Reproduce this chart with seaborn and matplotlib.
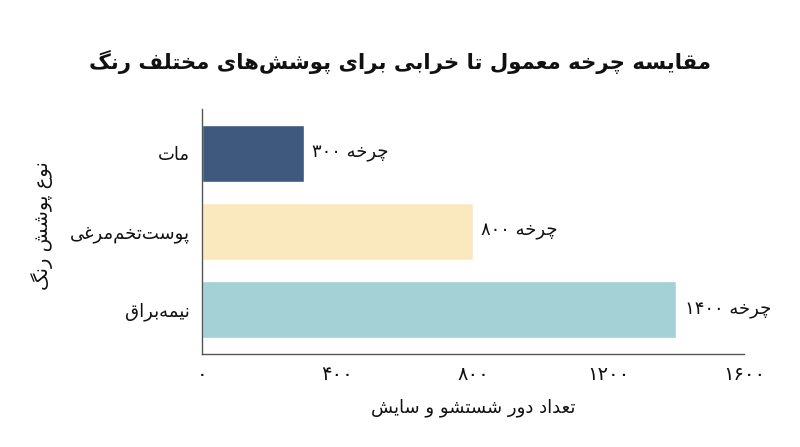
import matplotlib
matplotlib.use("Agg")
import matplotlib.pyplot as plt
import seaborn as sns
import pandas as pd

# chart data
categories = ["مات", "پوست\u200cتخم\u200cمرغی", "نیمه\u200cبراق"]
cycles = [300, 800, 1400]
bar_colors = ["#3e587e", "#fae9bf", "#a3d1d5"]
x_ticks = [0, 400, 800, 1200, 1600]
title = "مقایسه چرخه معمول تا خرابی برای پوشش\u200cهای مختلف رنگ"
x_label = "تعداد دور شستشو و سایش"
y_label = "نوع پوشش رنگ"
unit = "چرخه"

# matplotlib has no arabic shaping, so do it by hand with presentation forms
# (isolated, final, initial, medial)
FORMS = {
    "ا": ("\uFE8D", "\uFE8E", None, None),
    "ب": ("\uFE8F", "\uFE90", "\uFE91", "\uFE92"),
    "پ": ("\uFB56", "\uFB57", "\uFB58", "\uFB59"),
    "ت": ("\uFE95", "\uFE96", "\uFE97", "\uFE98"),
    "چ": ("\uFB7A", "\uFB7B", "\uFB7C", "\uFB7D"),
    "خ": ("\uFEA5", "\uFEA6", "\uFEA7", "\uFEA8"),
    "د": ("\uFEA9", "\uFEAA", None, None),
    "ر": ("\uFEAD", "\uFEAE", None, None),
    "س": ("\uFEB1", "\uFEB2", "\uFEB3", "\uFEB4"),
    "ش": ("\uFEB5", "\uFEB6", "\uFEB7", "\uFEB8"),
    "ع": ("\uFEC9", "\uFECA", "\uFECB", "\uFECC"),
    "غ": ("\uFECD", "\uFECE", "\uFECF", "\uFED0"),
    "ف": ("\uFED1", "\uFED2", "\uFED3", "\uFED4"),
    "ق": ("\uFED5", "\uFED6", "\uFED7", "\uFED8"),
    "ل": ("\uFEDD", "\uFEDE", "\uFEDF", "\uFEE0"),
    "م": ("\uFEE1", "\uFEE2", "\uFEE3", "\uFEE4"),
    "ن": ("\uFEE5", "\uFEE6", "\uFEE7", "\uFEE8"),
    "و": ("\uFEED", "\uFEEE", None, None),
    "ه": ("\uFEE9", "\uFEEA", "\uFEEB", "\uFEEC"),
    "ی": ("\uFBFC", "\uFBFD", "\uFBFE", "\uFBFF"),
    "گ": ("\uFB92", "\uFB93", "\uFB94", "\uFB95"),
}


def fa(text):
    out = []
    for i, ch in enumerate(text):
        if ch not in FORMS:
            if ch != "\u200c":
                out.append(ch)
            continue
        prev = text[i - 1] if i > 0 else None
        nxt = text[i + 1] if i < len(text) - 1 else None
        join_prev = prev in FORMS and FORMS[prev][2] is not None
        join_next = FORMS[ch][2] is not None and nxt in FORMS
        iso, fin, ini, med = FORMS[ch]
        if join_prev and join_next:
            out.append(med)
        elif join_prev:
            out.append(fin)
        elif join_next:
            out.append(ini)
        else:
            out.append(iso)
    return "".join(out)[::-1]


def fa_num(n):
    return str(n).translate(str.maketrans("0123456789", "۰۱۲۳۴۵۶۷۸۹"))


df = pd.DataFrame({"cat": [fa(c) for c in categories], "cycles": cycles})

sns.set_style("white")
plt.rcParams["font.family"] = ["DejaVu Sans"]
plt.rcParams["text.color"] = "#111111"
plt.rcParams["xtick.color"] = "#111111"
plt.rcParams["ytick.color"] = "#111111"

fig = plt.figure(figsize=(8, 4.47), dpi=100)
ax = fig.add_axes([202 / 800, 1 - 354 / 447, 542 / 800, 245 / 447])

sns.barplot(data=df, x="cycles", y="cat", hue="cat", palette=bar_colors,
            orient="h", width=0.73, legend=False, ax=ax, saturation=1)

ax.set_xlim(0, 1600)
ax.set_ylim(2.57, -0.57)
ax.set_xticks(x_ticks)
ax.set_xticklabels([fa_num(t) for t in x_ticks], fontsize=14)
ax.tick_params(axis="x", length=0, pad=8)
ax.tick_params(axis="y", length=0, pad=9, labelsize=13)
ax.set_xlabel("")
ax.set_ylabel("")

for side in ["top", "right"]:
    ax.spines[side].set_visible(False)
for side in ["left", "bottom"]:
    ax.spines[side].set_color("#555555")
    ax.spines[side].set_linewidth(1)

for i, v in enumerate(cycles):
    ax.text(v + 25, i, fa_num(v) + " " + fa(unit), va="center", ha="left",
            fontsize=13, clip_on=False)

fig.text(0.5, 1 - 62 / 447, fa(title), ha="center", va="center",
         fontsize=15.3, fontweight="bold")
fig.text(473 / 800, 1 - 408 / 447, fa(x_label), ha="center", va="center",
         fontsize=13)
fig.text(42 / 800, 1 - 226 / 447, fa(y_label), ha="center", va="center",
         fontsize=14, rotation=90)

fig.savefig("out.png", dpi=100)
